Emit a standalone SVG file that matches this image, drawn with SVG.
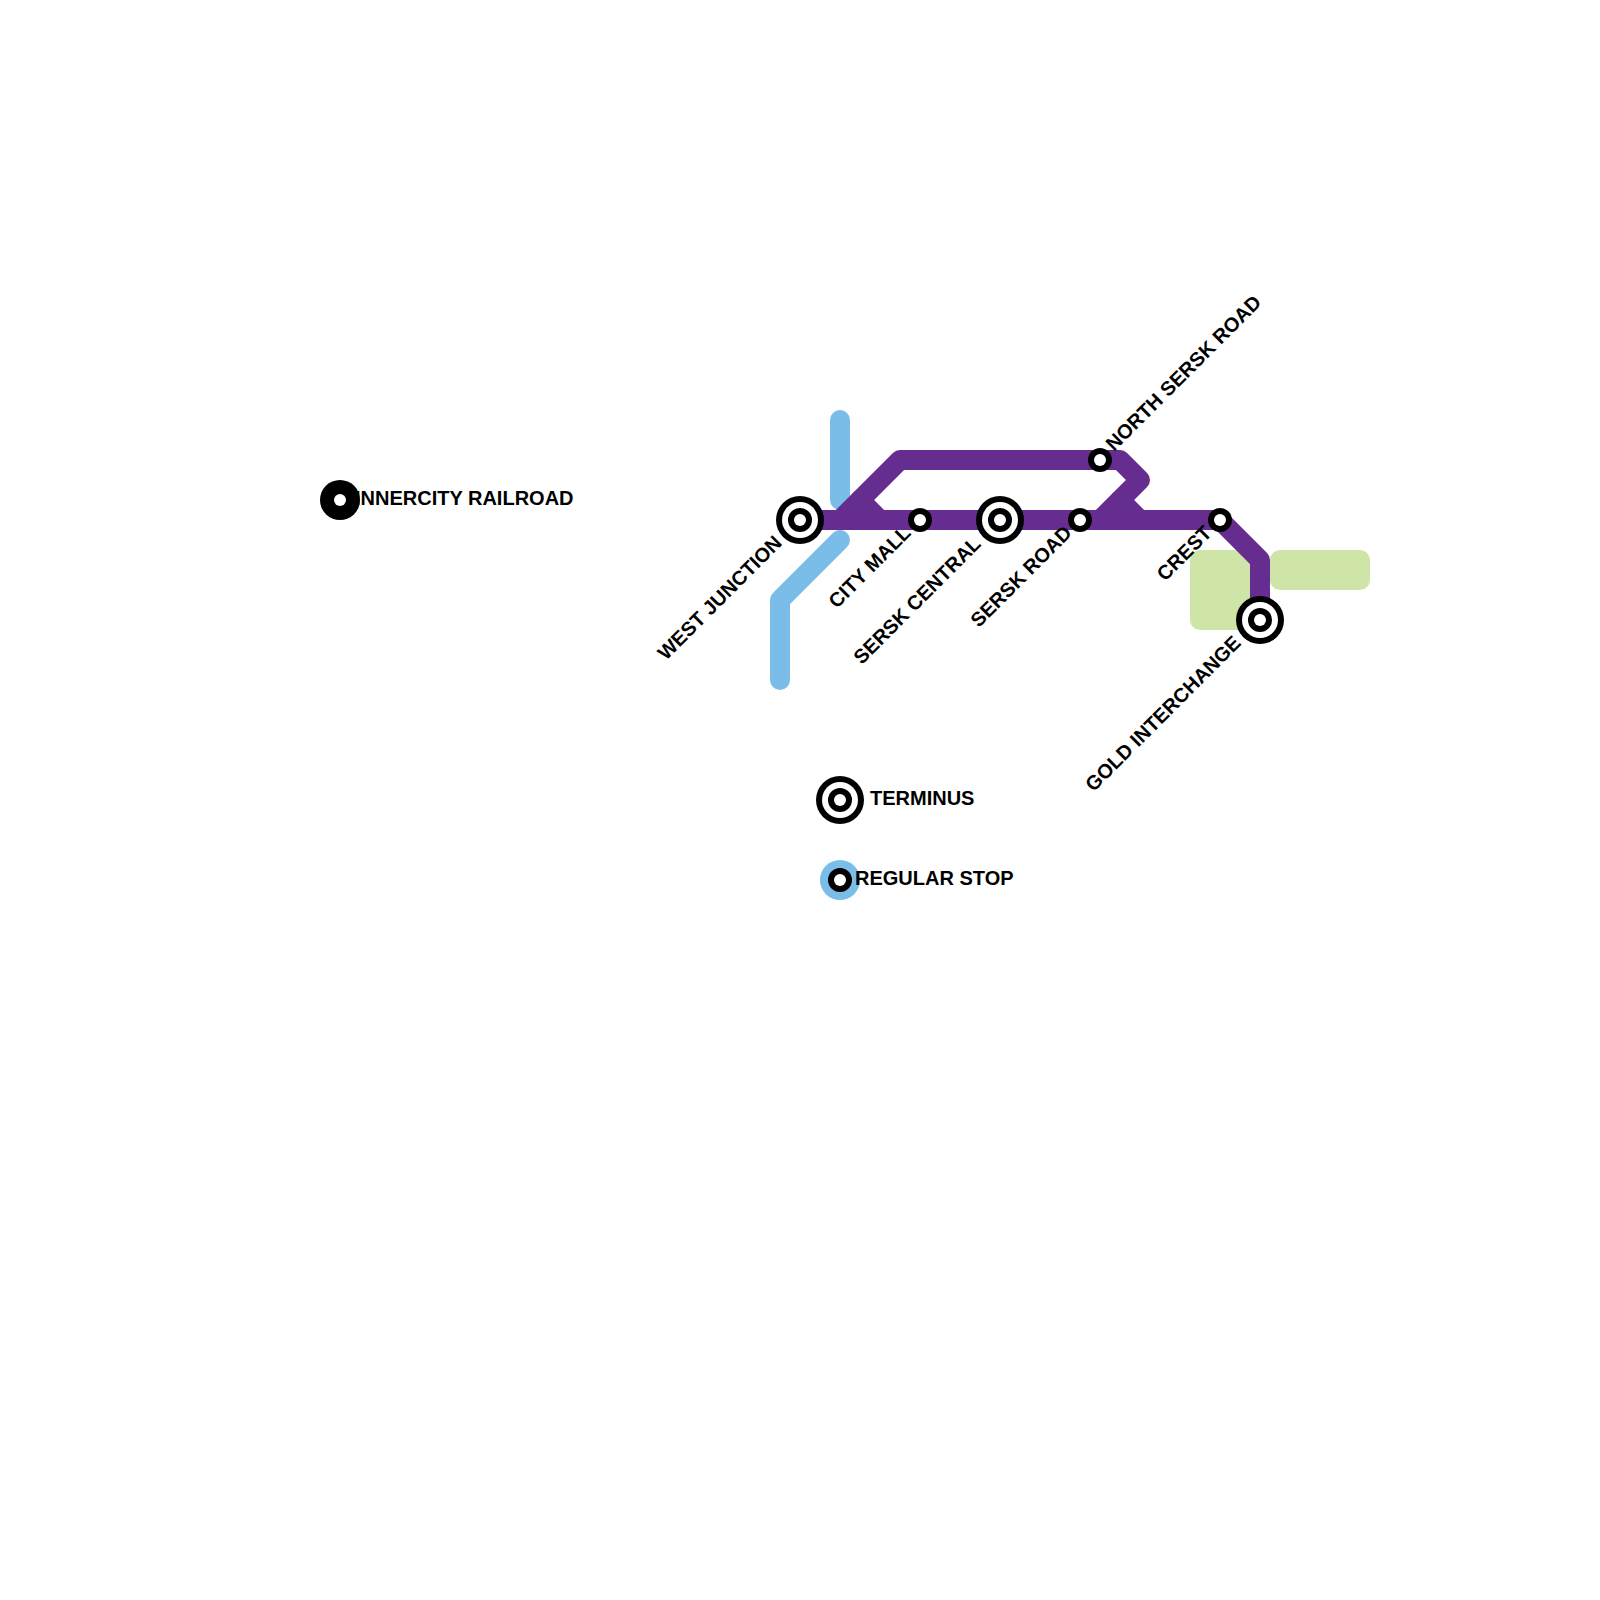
<svg xmlns="http://www.w3.org/2000/svg" width="1600" height="1600" viewBox="0 0 1600 1600">
<style>
.l{fill:none;stroke-width:20;stroke-linecap:round;stroke-linejoin:round}
.p{stroke:#662d91}.b{stroke:#7abde9}
.g{fill:#cfe4a7}
.k{fill:#000}.w{fill:#fff}
text{font-family:"Liberation Sans",Arial,sans-serif;font-weight:700;font-size:20px;fill:#000}
</style>
<defs>
<g id="term"><circle r="24" class="k"/><circle r="18" class="w"/><circle r="12" class="k"/><circle r="6" class="w"/></g>
<g id="stop"><circle r="12" class="k"/><circle r="6" class="w"/></g>
</defs>
<g id="water"><rect class="g" x="1190" y="550" width="60" height="80" rx="10"/><rect class="g" x="1270" y="550" width="100" height="40" rx="10"/></g>
<g id="connectors">
<path class="l b" d="M840 420V500"/>
<path class="l b" d="M840 540L780 600V680"/>
<path class="l p" d="M800 520H1220L1260 560V620"/>
<path class="l p" d="M840 520L900 460H1120L1140 480L1100 520"/>
<path class="l p" d="M860 500L880 520"/>
<path class="l p" d="M1120 500L1140 520"/>
</g>
<g id="west-junction"><use href="#term" x="800" y="520"/><text transform="translate(783 544) rotate(-45)" text-anchor="end">WEST JUNCTION</text></g>
<g id="city-mall"><use href="#stop" x="920" y="520"/><text transform="translate(912 534) rotate(-45)" text-anchor="end">CITY MALL</text></g>
<g id="sersk-central"><use href="#term" x="1000" y="520"/><text transform="translate(982 545) rotate(-45)" text-anchor="end">SERSK CENTRAL</text></g>
<g id="sersk-road"><use href="#stop" x="1080" y="520"/><text transform="translate(1073 534) rotate(-45)" text-anchor="end">SERSK ROAD</text></g>
<g id="north-sersk-road"><use href="#stop" x="1100" y="460"/><text transform="translate(1114 452) rotate(-45)">NORTH SERSK ROAD</text></g>
<g id="crest"><use href="#stop" x="1220" y="520"/><text transform="translate(1213 534) rotate(-45)" text-anchor="end">CREST</text></g>
<g id="gold-interchange"><use href="#term" x="1260" y="620"/><text transform="translate(1242 644) rotate(-45)" text-anchor="end">GOLD INTERCHANGE</text></g>
<g id="inner-city"><text x="355" y="505">INNERCITY RAILROAD</text><circle cx="340" cy="500" r="20" class="k"/><circle cx="340" cy="500" r="6" class="w"/></g>
<g id="legend-terminus"><use href="#term" x="840" y="800"/><text x="870" y="805">TERMINUS</text></g>
<g id="legend-stop"><circle cx="840" cy="880" r="20" fill="#7abde9"/><use href="#stop" x="840" y="880"/><text x="855" y="885">REGULAR STOP</text></g>
</svg>
